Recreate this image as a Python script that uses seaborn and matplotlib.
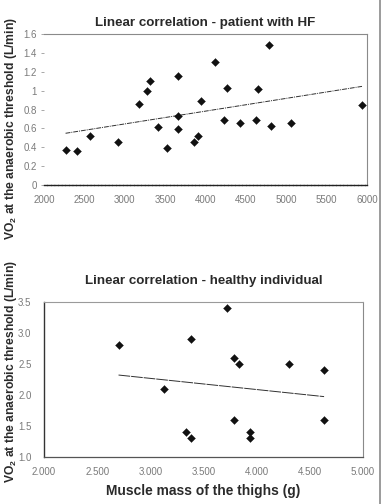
import numpy as np
import pandas as pd
import matplotlib
matplotlib.use("Agg")
import matplotlib.pyplot as plt
import seaborn as sns
from matplotlib.lines import Line2D
from matplotlib.ticker import FixedLocator, FixedFormatter

# ---------------- data ----------------
hf_mass = [2267, 2410, 2574, 2915, 3177, 3271, 3313, 3411, 3518, 3661, 3661, 3661,
           3858, 3911, 3948, 4117, 4223, 4264, 4428, 4629, 4650, 4789, 4814, 5060, 5938]
hf_vo2 = [0.37, 0.36, 0.52, 0.46, 0.86, 1.00, 1.10, 0.61, 0.39, 1.15, 0.73, 0.59,
          0.46, 0.52, 0.89, 1.30, 0.69, 1.03, 0.66, 0.69, 1.02, 1.48, 0.62, 0.66, 0.85]
hf_trend_x = [2267, 5938]
hf_trend_y = [0.548, 1.045]

hl_mass = [2701, 3128, 3339, 3380, 3386, 3718, 3791, 3791, 3832, 3939, 3939, 4302, 4634, 4634]
hl_vo2 = [2.8, 2.1, 1.4, 1.3, 2.9, 3.4, 2.6, 1.6, 2.5, 1.4, 1.3, 2.5, 2.4, 1.6]
hl_trend_x = [2701, 4634]
hl_trend_y = [2.322, 1.974]

top_xticks = [2000, 2500, 3000, 3500, 4000, 4500, 5000, 5500, 6000]
top_xlabels = ["2000", "2500", "3000", "3500", "4000", "4500", "5000", "5500", "6000"]
top_yticks = [0, 0.2, 0.4, 0.6, 0.8, 1.0, 1.2, 1.4, 1.6]
top_ylabels = ["0", "0.2", "0.4", "0.6", "0.8", "1", "1.2", "1.4", "1.6"]

bot_xticks = [2000, 2500, 3000, 3500, 4000, 4500, 5000]
bot_xlabels = ["2.000", "2.500", "3.000", "3.500", "4.000", "4.500", "5.000"]
bot_yticks = [1.0, 1.5, 2.0, 2.5, 3.0, 3.5]
bot_ylabels = ["1.0", "1.5", "2.0", "2.5", "3.0", "3.5"]

title_top = "Linear correlation - patient with HF"
title_bot = "Linear correlation - healthy individual"
ylabel = r"$\mathbf{VO_2}$ at the anaerobic threshold (L/min)"
xlabel = "Muscle mass of the thighs (g)"

# ---------------- style ----------------
sns.set_theme(style="white")
plt.rcParams["font.family"] = ["Liberation Sans", "DejaVu Sans"]
plt.rcParams["mathtext.fontset"] = "custom"
plt.rcParams["mathtext.rm"] = "Liberation Sans"
plt.rcParams["mathtext.bf"] = "Liberation Sans:bold"

W, H = 384, 504
fig = plt.figure(figsize=(W / 100, H / 100), dpi=100)
fig.patch.set_facecolor("white")

def ax_rect(l, r, t, b):
    return [l / W, 1 - b / H, (r - l) / W, (b - t) / H]

ax1 = fig.add_axes(ax_rect(44, 367, 34, 185))
ax2 = fig.add_axes(ax_rect(44, 363, 302, 457))

tick_color = "#7a7a7a"
text_color = "#2a2a2a"
df1 = pd.DataFrame({"mass": hf_mass, "vo2": hf_vo2})
df2 = pd.DataFrame({"mass": hl_mass, "vo2": hl_vo2})

for ax, df, tx, ty, ls in [(ax1, df1, hf_trend_x, hf_trend_y, (0, (5, 1, 1, 1))),
                           (ax2, df2, hl_trend_x, hl_trend_y, (0, (12, 1)))]:
    sns.lineplot(x=tx, y=ty, ax=ax, color="#303030", lw=0.7, linestyle=ls)
    sns.scatterplot(data=df, x="mass", y="vo2", ax=ax, marker="D", s=16,
                    color="#111111", edgecolor="#111111", linewidth=0.3, zorder=3)
    ax.set_xlabel("")
    ax.set_ylabel("")
    ax.set_facecolor("white")

# top axes
ax1.set_xlim(2000, 6000)
ax1.set_ylim(0, 1.6)
ax1.xaxis.set_major_locator(FixedLocator(top_xticks))
ax1.xaxis.set_major_formatter(FixedFormatter(top_xlabels))
ax1.yaxis.set_major_locator(FixedLocator(top_yticks))
ax1.yaxis.set_major_formatter(FixedFormatter(top_ylabels))
ax1.spines["left"].set_visible(False)
for s in ["top", "right"]:
    ax1.spines[s].set_color("#8a8a8a")
    ax1.spines[s].set_linewidth(0.8)
ax1.spines["bottom"].set_color("#222222")
ax1.spines["bottom"].set_linewidth(1.0)
ax1.spines["bottom"].set_linestyle((0, (2, 0.6)))
ax1.tick_params(axis="y", length=2, width=0.6, color="#9a9a9a", pad=3,
                labelsize=7, labelcolor=tick_color, left=True)
ax1.tick_params(axis="x", length=0, pad=7, labelsize=7, labelcolor=tick_color)
ax1.set_title(title_top, fontsize=9.6, fontweight="bold", color=text_color, pad=6)

# bottom axes
ax2.set_xlim(2000, 5000)
ax2.set_ylim(1.0, 3.5)
ax2.xaxis.set_major_locator(FixedLocator(bot_xticks))
ax2.xaxis.set_major_formatter(FixedFormatter(bot_xlabels))
ax2.yaxis.set_major_locator(FixedLocator(bot_yticks))
ax2.yaxis.set_major_formatter(FixedFormatter(bot_ylabels))
ax2.spines["left"].set_color("#333333")
ax2.spines["left"].set_linewidth(1.0)
ax2.spines["right"].set_color("#8a8a8a")
ax2.spines["right"].set_linewidth(0.8)
ax2.spines["top"].set_color("#9a9a9a")
ax2.spines["top"].set_linewidth(0.8)
ax2.spines["top"].set_linestyle((0, (2, 1)))
ax2.spines["bottom"].set_color("#555555")
ax2.spines["bottom"].set_linewidth(0.9)
ax2.spines["bottom"].set_linestyle((0, (2, 1)))
ax2.tick_params(axis="y", length=0, pad=9, labelsize=7, labelcolor=tick_color)
ax2.tick_params(axis="x", length=0, pad=7, labelsize=7, labelcolor=tick_color)
ax2.set_title(title_bot, fontsize=9.6, fontweight="bold", color=text_color, pad=13)
ax2.set_xlabel(xlabel, fontsize=9.9, fontweight="bold", color=text_color, labelpad=5)

# y labels (one per panel)
fig.text(11 / W, 1 - 129 / H, ylabel, rotation=90, ha="center", va="center",
         fontsize=8.7, fontweight="bold", color=text_color)
fig.text(11 / W, 1 - 372 / H, ylabel, rotation=90, ha="center", va="center",
         fontsize=8.7, fontweight="bold", color=text_color)

# page border line at right
fig.add_artist(Line2D([380 / W, 380 / W], [0, 1], transform=fig.transFigure,
                      color="#8a8a8a", lw=1.2))

fig.savefig("out.png", dpi=100, facecolor="white")
